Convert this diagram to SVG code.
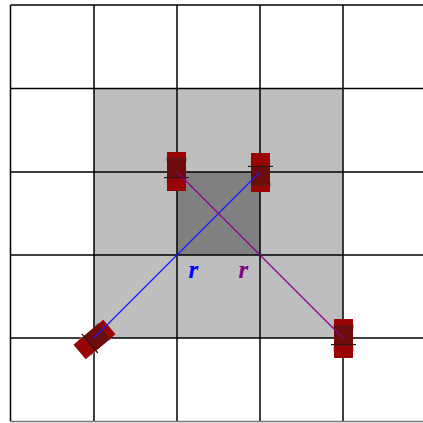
<svg xmlns="http://www.w3.org/2000/svg" width="423" height="423" viewBox="0 0 423 423">
<style>
.g{stroke:#000;stroke-width:1.5;fill:none}
.lbl{font-family:"Liberation Serif",serif;font-style:italic;font-weight:bold;font-size:25px}
.blue{fill:none;stroke:#1a1aff;stroke-width:1.2}
.purple{fill:none;stroke:#900090;stroke-width:1.2}
</style>
<defs>
<g id="car">
<rect x="-10.500" y="-14" width="21" height="4" fill="#777" opacity=".7"/>
<rect x="-10.500" y="8" width="21" height="5" fill="#999" opacity=".6"/>
<rect x="-9.500" y="-19.500" width="19" height="39" fill="#990505"/>
<rect x="-9.500" y="-12.500" width="19" height="19" fill="#6e0b0b"/>
<rect x="-9.500" y="-13" width="19" height="1" fill="#502020"/>
<rect x="-12.500" y="5.500" width="25" height="1.200" fill="#301515"/>
</g>
</defs>
<rect width="423" height="423" fill="#fff"/>
<g id="regions">
<rect x="94" y="88.500" width="249" height="249.500" fill="#bebebe"/>
<rect x="177" y="172" width="83" height="83" fill="#808080"/>
</g>
<g id="grid" class="g">
<path d="M10.500 5H423M10.500 88.500H423M10.500 172H423M10.500 255H423M10.500 338H423"/>
<path d="M10.500 5V421M94 5V421M177 5V421M260 5V421M343 5V421"/>
<path d="M10 421.500H423" style="stroke:#777"/>
</g>
<g id="cars">
<use id="car1" href="#car" transform="translate(176.500 171.500)"/>
<use id="car2" href="#car" transform="translate(260.500 172.500) rotate(180)"/>
<use id="car3" href="#car" transform="translate(343.500 338.500)"/>
<use id="car4" href="#car" transform="translate(94.500 339.500) rotate(50)"/>
</g>
<g id="connectors">
<line class="blue" x1="260" y1="172" x2="94" y2="338"/>
<line class="purple" x1="177" y1="172" x2="343" y2="338"/>
</g>
<g id="labels">
<text class="lbl" x="188.500" y="278" fill="#0000ff">r</text>
<text class="lbl" x="238.500" y="278" fill="#800080">r</text>
</g>
</svg>
